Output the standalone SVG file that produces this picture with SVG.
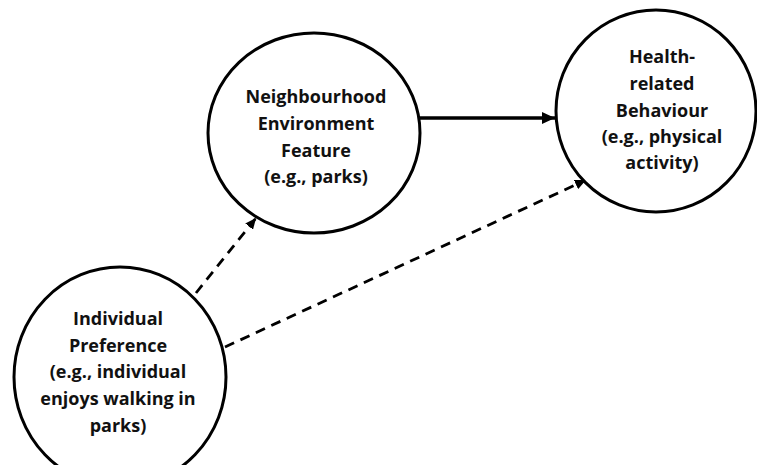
<svg xmlns="http://www.w3.org/2000/svg" width="757" height="465" viewBox="0 0 757 465">
<style>
.node{fill:#fff;stroke:#000;stroke-width:3}
.lbl{font-family:"Open Sans","Liberation Sans",sans-serif;font-weight:bold;font-size:18px;fill:#111;text-anchor:middle}
.solid{stroke:#000;stroke-width:3.5;fill:none}
.dash{stroke:#000;stroke-width:2.8;fill:none;stroke-dasharray:10 7}
</style>
<defs>
<marker id="ah" markerUnits="userSpaceOnUse" markerWidth="14" markerHeight="12" refX="13" refY="6" orient="auto">
<path d="M0,0 L13,6 L0,12 Z" fill="#000"/>
</marker>
<marker id="ahs" markerUnits="userSpaceOnUse" markerWidth="12" markerHeight="10" refX="11" refY="5" orient="auto">
<path d="M0,0 L11,5 L0,10 Z" fill="#000"/>
</marker>
</defs>
<rect width="757" height="465" fill="#fff"/>
<g id="connectors">
<line class="solid" x1="420" y1="118" x2="555" y2="118" marker-end="url(#ah)"/>
<line class="dash" x1="196" y1="293" x2="256" y2="218" marker-end="url(#ahs)"/>
<line class="dash" x1="225" y1="347" x2="586" y2="180" marker-end="url(#ahs)"/>
</g>
<g id="neighbourhood">
<ellipse class="node" cx="314" cy="133" rx="106" ry="100"/>
<text class="lbl" x="316" y="103">Neighbourhood</text>
<text class="lbl" x="316" y="130">Environment</text>
<text class="lbl" x="316" y="157">Feature</text>
<text class="lbl" x="316" y="183">(e.g., parks)</text>
</g>
<g id="health">
<ellipse class="node" cx="656" cy="111" rx="100" ry="101"/>
<text class="lbl" x="662" y="63">Health-</text>
<text class="lbl" x="662" y="90">related</text>
<text class="lbl" x="662" y="117">Behaviour</text>
<text class="lbl" x="662" y="143">(e.g., physical</text>
<text class="lbl" x="662" y="169">activity)</text>
</g>
<g id="individual">
<ellipse class="node" cx="120" cy="377" rx="106" ry="110"/>
<text class="lbl" x="118" y="325">Individual</text>
<text class="lbl" x="118" y="352">Preference</text>
<text class="lbl" x="118" y="378">(e.g., individual</text>
<text class="lbl" x="118" y="405">enjoys walking in</text>
<text class="lbl" x="118" y="432">parks)</text>
</g>
</svg>
